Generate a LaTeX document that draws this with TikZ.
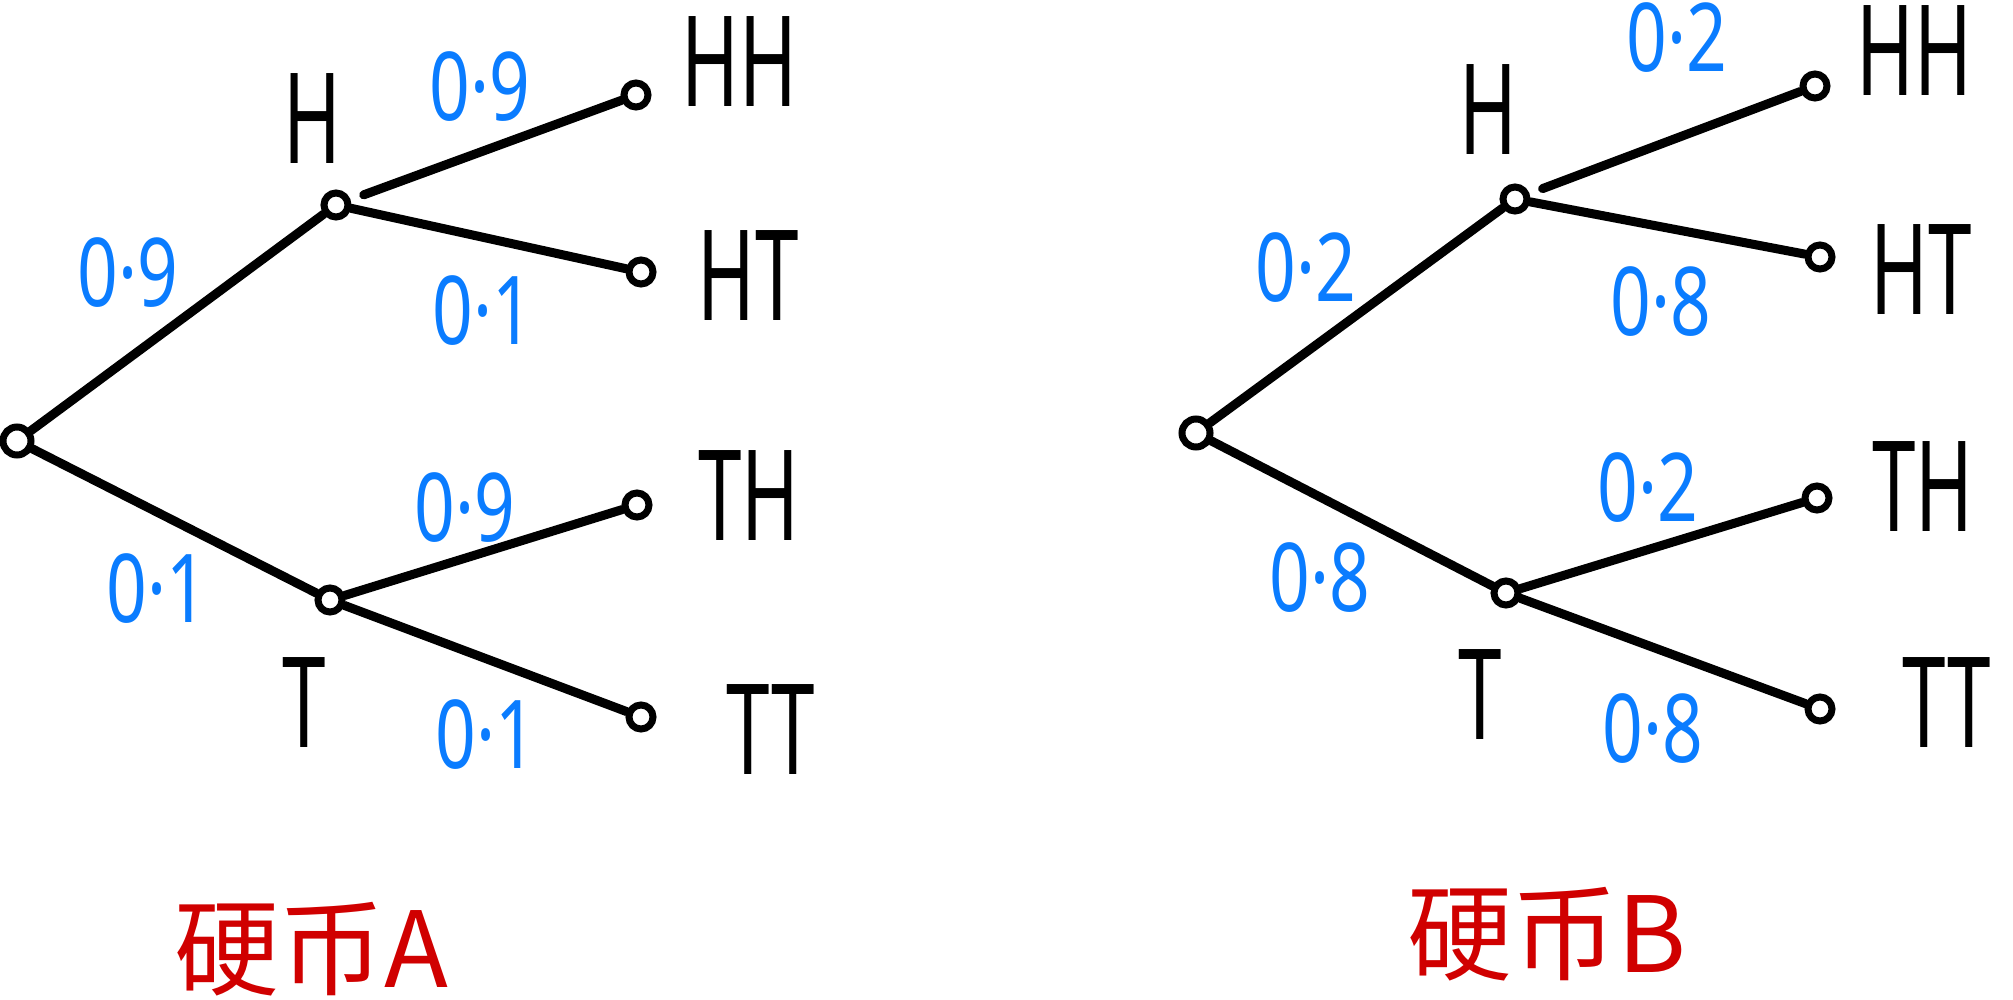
\documentclass[tikz,border=0pt]{standalone}
\usepackage{graphicx}
\usepackage{fontspec}
\setmainfont{Noto Sans}
\newfontfamily\cjk{Noto Sans CJK SC}
\definecolor{myblue}{RGB}{10,124,255}
\definecolor{myred}{RGB}{208,0,0}
\newcommand\nar[1]{\scalebox{0.62}[1]{#1}}
\newcommand\narb[1]{\scalebox{0.75}[1]{#1}}
\tikzset{
  dot/.style={circle, draw, line width=7pt, minimum size=24pt, inner sep=0pt},
  bigdot/.style={circle, draw, line width=7pt, minimum size=28pt, inner sep=0pt},
  edge/.style={line width=9pt, line cap=round},
  lbl/.style={inner sep=0pt, font=\fontsize{126}{130}\selectfont},
  prob/.style={inner sep=0pt, text=myblue, font=\fontsize{95}{100}\selectfont},
  title/.style={inner sep=0pt, text=myred, font=\cjk\fontsize{105}{110}\selectfont}
}
\begin{document}
\begin{tikzpicture}[x=1pt,y=-1pt]
\useasboundingbox (0,0) rectangle (2013,1000);
% ---------- Tree A ----------
\node[bigdot] (r1) at (17,441) {};
\node[dot] (h1) at (336,205) {};
\node[dot] (t1) at (330,600) {};
\node[dot] (hh1) at (636,95) {};
\node[dot] (ht1) at (641,272) {};
\node[dot] (th1) at (637,505) {};
\node[dot] (tt1) at (641,717) {};
\draw[edge] (r1) -- (h1);
\draw[edge] (r1) -- (t1);
\draw[edge, shorten <=14pt] (h1) -- (hh1);
\draw[edge] (h1) -- (ht1);
\draw[edge] (t1) -- (th1);
\draw[edge] (t1) -- (tt1);
\node[lbl] (lh1) at (312,119) {\nar{H}};
\node[lbl] (lt1) at (304,703) {\nar{T}};
\node[lbl] (lhh1) at (739,62) {\nar{HH}};
\node[lbl] (lht1) at (748,276) {\nar{HT}};
\node[lbl] (lth1) at (749,496) {\nar{TH}};
\node[lbl] (ltt1) at (771,730) {\nar{TT}};
\node[prob] (p1) at (128,273) {\narb{0·9}};
\node[prob] (p2) at (157,589) {\narb{0·1}};
\node[prob] (p3) at (480,87) {\narb{0·9}};
\node[prob] (p4) at (483,311) {\narb{0·1}};
\node[prob] (p5) at (465,508) {\narb{0·9}};
\node[prob] (p6) at (486,735) {\narb{0·1}};
\node[title] (ta) at (311,949) {硬币A};
% ---------- Tree B ----------
\node[bigdot] (r2) at (1196,433) {};
\node[dot] (h2) at (1515,199) {};
\node[dot] (t2) at (1506,593) {};
\node[dot] (hh2) at (1815,86) {};
\node[dot] (ht2) at (1820,257) {};
\node[dot] (th2) at (1817,498) {};
\node[dot] (tt2) at (1820,709) {};
\draw[edge] (r2) -- (h2);
\draw[edge] (r2) -- (t2);
\draw[edge, shorten <=14pt] (h2) -- (hh2);
\draw[edge] (h2) -- (ht2);
\draw[edge] (t2) -- (th2);
\draw[edge] (t2) -- (tt2);
\node[lbl] (lh2) at (1488,110) {\nar{H}};
\node[lbl] (lt2) at (1480,695) {\nar{T}};
\node[lbl] (lhh2) at (1914,51) {\nar{HH}};
\node[lbl] (lht2) at (1921,270) {\nar{HT}};
\node[lbl] (lth2) at (1923,487) {\nar{TH}};
\node[lbl] (ltt2) at (1947,703) {\nar{TT}};
\node[prob] (q1) at (1306,268) {\narb{0·2}};
\node[prob] (q2) at (1320,578) {\narb{0·8}};
\node[prob] (q3) at (1677,38) {\narb{0·2}};
\node[prob] (q4) at (1661,302) {\narb{0·8}};
\node[prob] (q5) at (1648,488) {\narb{0·2}};
\node[prob] (q6) at (1653,729) {\narb{0·8}};
\node[title] (tb) at (1547,934) {硬币B};
\end{tikzpicture}
\end{document}
